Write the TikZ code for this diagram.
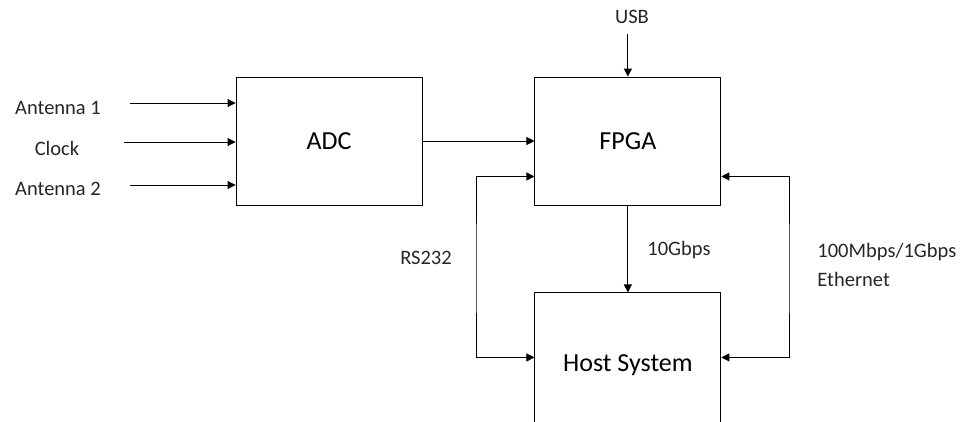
\documentclass[tikz,border=0pt]{standalone}
\usepackage{fontspec}
\setmainfont{Carlito}
\usetikzlibrary{arrows.meta,positioning}

\begin{document}
\begin{tikzpicture}[x=1pt,y=-1pt,>={Triangle[length=8pt,width=8pt]},line width=0.9pt,
  blk/.style={draw,minimum width=186pt,minimum height=128pt,inner sep=0pt,
    font=\fontsize{26}{30}\selectfont},
  lbl/.style={inner sep=0pt,text=black!85,font=\fontsize{20.5}{29}\selectfont}]
  \clip (0,0) rectangle (961,421);
  % blocks
  \node[blk] (adc) at (329,141) {ADC};
  \node[blk,right=112pt of adc] (fpga) {FPGA};
  \node[blk,below=87pt of fpga,minimum height=144pt] (host) {Host System};
  % inputs
  \node[lbl] (ant1) at (58,108) {Antenna 1};
  \node[lbl] (clk) at (57,148) {Clock};
  \node[lbl] (ant2) at (58,189) {Antenna 2};
  \coordinate (in1) at (130,103);
  \coordinate (in2) at (124,142);
  \coordinate (in3) at (130,185);
  \draw[->] (in1) -- (in1 -| adc.west);
  \draw[->] (in2) -- (in2 -| adc.west);
  \draw[->] (in3) -- (in3 -| adc.west);
  \draw[->] (adc) -- (fpga);
  % usb and 10G link
  \node[lbl] (usb) at (632,17) {USB};
  \draw[->] (usb.south -| fpga) ++(0,-10pt) -- (fpga);
  \draw[->] (fpga) -- (host);
  \node[lbl] (tenG) at (679,250) {10Gbps};
  % side loops
  \coordinate (rsL) at (476,270);
  \coordinate (ethR) at (789,270);
  \draw[<->] ([yshift=29pt]fpga.south west) -| (rsL) |- ([yshift=-65pt]host.north west);
  \draw[<->] ([yshift=29pt]fpga.south east) -| (ethR) |- ([yshift=-65pt]host.north east);
  \node[lbl] (rs) at (426,258) {RS232};
  \node[lbl,align=left,anchor=west] (eth) at (817,265) {100Mbps/1Gbps\\Ethernet};
\end{tikzpicture}
\end{document}
